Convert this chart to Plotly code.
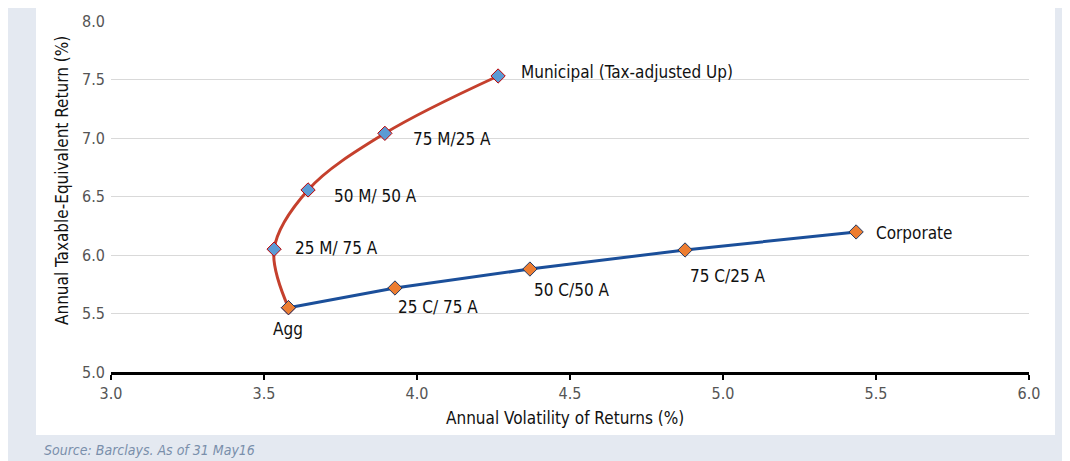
import subprocess
import plotly.graph_objects as go

# Data
muni_labels = ["Agg", "25 M/ 75 A", "50 M/ 50 A", "75 M/25 A", "Municipal (Tax-adjusted Up)"]
muni_vol = [3.58, 3.533, 3.644, 3.895, 4.265]
muni_ret = [5.55, 6.05, 6.556, 7.04, 7.53]

corp_labels = ["Agg", "25 C/ 75 A", "50 C/50 A", "75 C/25 A", "Corporate"]
corp_vol = [3.58, 3.928, 4.369, 4.876, 5.435]
corp_ret = [5.55, 5.718, 5.88, 6.043, 6.197]

x_ticks = [3.0, 3.5, 4.0, 4.5, 5.0, 5.5, 6.0]
y_ticks = [5.0, 5.5, 6.0, 6.5, 7.0, 7.5, 8.0]

# pick a condensed font if one is installed
candidates = ["Liberation Sans Narrow", "DejaVu Sans Condensed", "Roboto Condensed",
              "Noto Sans Condensed", "Open Sans Condensed", "Noto Sans Display Condensed"]
try:
    fams = subprocess.run(["fc-list", ":", "family"], capture_output=True, text=True).stdout
    fams_set = set()
    for line in fams.splitlines():
        for f in line.split(","):
            fams_set.add(f.strip())
except Exception:
    fams_set = set()
chosen = next((c for c in candidates if c in fams_set), "Roboto")
FONT = f"{chosen}, Roboto, sans-serif"

fig = go.Figure()
fig.add_trace(go.Scatter(
    x=muni_vol, y=muni_ret, mode="lines+markers",
    line=dict(color="#c5402d", width=3, shape="spline", smoothing=1.0),
    marker=dict(symbol="diamond", size=11, color="#5b9bd5", line=dict(color="#c00000", width=1)),
    showlegend=False, hoverinfo="x+y"))
fig.add_trace(go.Scatter(
    x=corp_vol, y=corp_ret, mode="lines+markers",
    line=dict(color="#1b4f9a", width=3),
    marker=dict(symbol="diamond", size=11, color="#ed7d31", line=dict(color="#1f3864", width=1)),
    showlegend=False, hoverinfo="x+y"))

muni_off = [None, (19, 1), (24, -6), (26, -6), (21, 4)]
corp_off = [("center", 0, -21), ("left", 1, -19), ("left", 2, -21), ("left", 3, -26), ("left", 18, -1)]

annotations = []
for lab, x, y, off in zip(muni_labels, muni_vol, muni_ret, muni_off):
    if off is None:
        continue
    annotations.append(dict(x=x, y=y, xref="x", yref="y", text=lab, showarrow=False,
                            xanchor="left", yanchor="middle", xshift=off[0], yshift=off[1],
                            font=dict(family=FONT, size=17, color="#111111")))
for lab, x, y, off in zip(corp_labels, corp_vol, corp_ret, corp_off):
    annotations.append(dict(x=x, y=y, xref="x", yref="y", text=lab, showarrow=False,
                            xanchor=off[0], yanchor="middle", xshift=off[1], yshift=off[2],
                            font=dict(family=FONT, size=17, color="#111111")))

# plot area on the page: x 111..1029 px, y 21..372 px (page has an 8px body offset)
PW, PH = 918.0, 351.0
def px(xp):
    return (xp - 111) / PW
def py(yp):
    return (372 - yp) / PH

annotations.append(dict(x=px(42), y=py(450), xref="paper", yref="paper",
                        text="<i>Source: Barclays. As of 31 May16</i>",
                        showarrow=False, xanchor="left", yanchor="middle",
                        font=dict(family=FONT, size=14, color="#7a8fab")))
annotations.append(dict(x=px(565), y=py(418), xref="paper", yref="paper",
                        text="Annual Volatility of Returns (%)", showarrow=False,
                        xanchor="center", yanchor="middle",
                        font=dict(family=FONT, size=17, color="#111111")))
annotations.append(dict(x=px(62), y=py(181), xref="paper", yref="paper",
                        text="Annual Taxable-Equivalent Return (%)", showarrow=False, textangle=-90,
                        xanchor="center", yanchor="middle",
                        font=dict(family=FONT, size=17, color="#111111")))

W, H = 1062, 453
fig.update_layout(
    width=W, height=H,
    margin=dict(l=103, r=W - 103 - 918, t=13, b=H - 13 - 351, autoexpand=False),
    paper_bgcolor="#e4e9f1", plot_bgcolor="rgba(0,0,0,0)",
    font=dict(family=FONT, size=16, color="#111111"),
    annotations=annotations,
    shapes=[dict(type="rect", xref="paper", yref="paper",
                 x0=px(36), x1=px(1055), y0=py(435), y1=py(7),
                 layer="below", line=dict(width=0), fillcolor="#ffffff")],
)

fig.update_xaxes(range=[3.0, 6.0], tickvals=x_ticks, ticktext=[f"{v:.1f}" for v in x_ticks],
                 showgrid=False, zeroline=False, showline=True, linecolor="#000000", linewidth=3,
                 ticks="outside", ticklen=5, tickwidth=2, tickcolor="#000000", automargin=False,
                 tickfont=dict(family=FONT, size=16, color="#555555"))
fig.update_yaxes(range=[5.0, 8.0], tickvals=y_ticks, ticktext=[f"{v:.1f}" for v in y_ticks],
                 showgrid=True, gridcolor="#d9d9d9", gridwidth=1, zeroline=False, showline=False,
                 ticks="", automargin=False, ticklabelstandoff=5,
                 tickfont=dict(family=FONT, size=16, color="#555555"))

fig.write_html("out.html")
